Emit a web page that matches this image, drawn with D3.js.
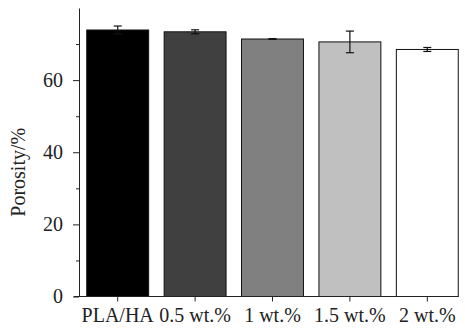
<!DOCTYPE html>
<html>
<head>
<meta charset="utf-8">
<script src="https://cdn.jsdelivr.net/npm/d3@7"></script>
<style>
  body { margin: 0; background: #fff; }
  text { font-family: "Liberation Serif", "Times New Roman", serif; fill: #222; }
</style>
</head>
<body>
<script>
const w = 465;
const h = 330;
const margin = { top: 8, right: -1, bottom: 33.5, left: 79 };

// data
const groups = ["PLA/HA", "0.5 wt.%", "1 wt.%", "1.5 wt.%", "2 wt.%"];
const porosity = [73.9, 73.4, 71.4, 70.6, 68.5];
const errors = [1.1, 0.55, 0.1, 3.0, 0.55];
const fills = ["#000000", "#404040", "#808080", "#c0c0c0", "#ffffff"];
const majorTicks = [0, 20, 40, 60];
const minorTicks = [10, 30, 50, 70];

const data = groups.map((g, i) => ({ g, v: porosity[i], e: errors[i], c: fills[i] }));

const svg = d3.select("body").append("svg").attr("width", w).attr("height", h);

const x = d3
  .scaleBand()
  .domain(groups)
  .range([margin.left, w - margin.right])
  .paddingInner(0.2)
  .paddingOuter(0.1);

const y = d3
  .scaleLinear()
  .domain([0, 80])
  .range([h - margin.bottom, margin.top]);

/* bars */
svg
  .selectAll("rect.bar")
  .data(data)
  .enter()
  .append("rect")
  .attr("class", "bar")
  .attr("x", (d) => x(d.g))
  .attr("y", (d) => y(d.v))
  .attr("width", x.bandwidth())
  .attr("height", (d) => y(0) - y(d.v))
  .attr("fill", (d) => d.c)
  .attr("stroke", "#111")
  .attr("stroke-width", 1);

/* error bars */
const eb = svg.selectAll("g.err").data(data).enter().append("g").attr("class", "err")
  .attr("stroke", "#111").attr("stroke-width", 1.2);
const cx = (d) => x(d.g) + x.bandwidth() / 2;
eb.append("line")
  .attr("x1", cx).attr("x2", cx)
  .attr("y1", (d) => y(d.v + d.e)).attr("y2", (d) => y(d.v - d.e));
eb.append("line")
  .attr("x1", (d) => cx(d) - 4).attr("x2", (d) => cx(d) + 4)
  .attr("y1", (d) => y(d.v + d.e)).attr("y2", (d) => y(d.v + d.e));
eb.append("line")
  .attr("x1", (d) => cx(d) - 4).attr("x2", (d) => cx(d) + 4)
  .attr("y1", (d) => y(d.v - d.e)).attr("y2", (d) => y(d.v - d.e));

/* y axis */
const yAxis = svg
  .append("g")
  .attr("transform", `translate(${margin.left},0)`)
  .call(d3.axisLeft(y).tickValues(majorTicks).tickSize(6).tickSizeOuter(0).tickPadding(10));
yAxis.selectAll("text").style("font-size", "20px");
yAxis.selectAll("line, path").attr("stroke", "#222");

svg
  .append("g")
  .attr("transform", `translate(${margin.left},0)`)
  .call(d3.axisLeft(y).tickValues(minorTicks).tickSize(3).tickFormat(""))
  .call((g) => g.select(".domain").remove())
  .selectAll("line").attr("stroke", "#222");

/* x axis */
const xAxis = svg
  .append("g")
  .attr("transform", `translate(0,${y(0)})`)
  .call(d3.axisBottom(x).tickSize(5).tickPadding(6))
  .call((g) => g.select(".domain").remove());
xAxis.selectAll("text").style("font-size", "20px");
xAxis.selectAll("line").attr("stroke", "#222");

svg
  .append("line")
  .attr("x1", margin.left - 5)
  .attr("x2", x(groups[groups.length - 1]) + x.bandwidth())
  .attr("y1", y(0))
  .attr("y2", y(0))
  .attr("stroke", "#222");

/* y label */
svg
  .append("text")
  .attr("transform", `translate(25, ${(y(0) + y(80)) / 2 + 20}) rotate(-90)`)
  .attr("text-anchor", "middle")
  .style("font-size", "20px")
  .text("Porosity/%");
</script>
</body>
</html>
